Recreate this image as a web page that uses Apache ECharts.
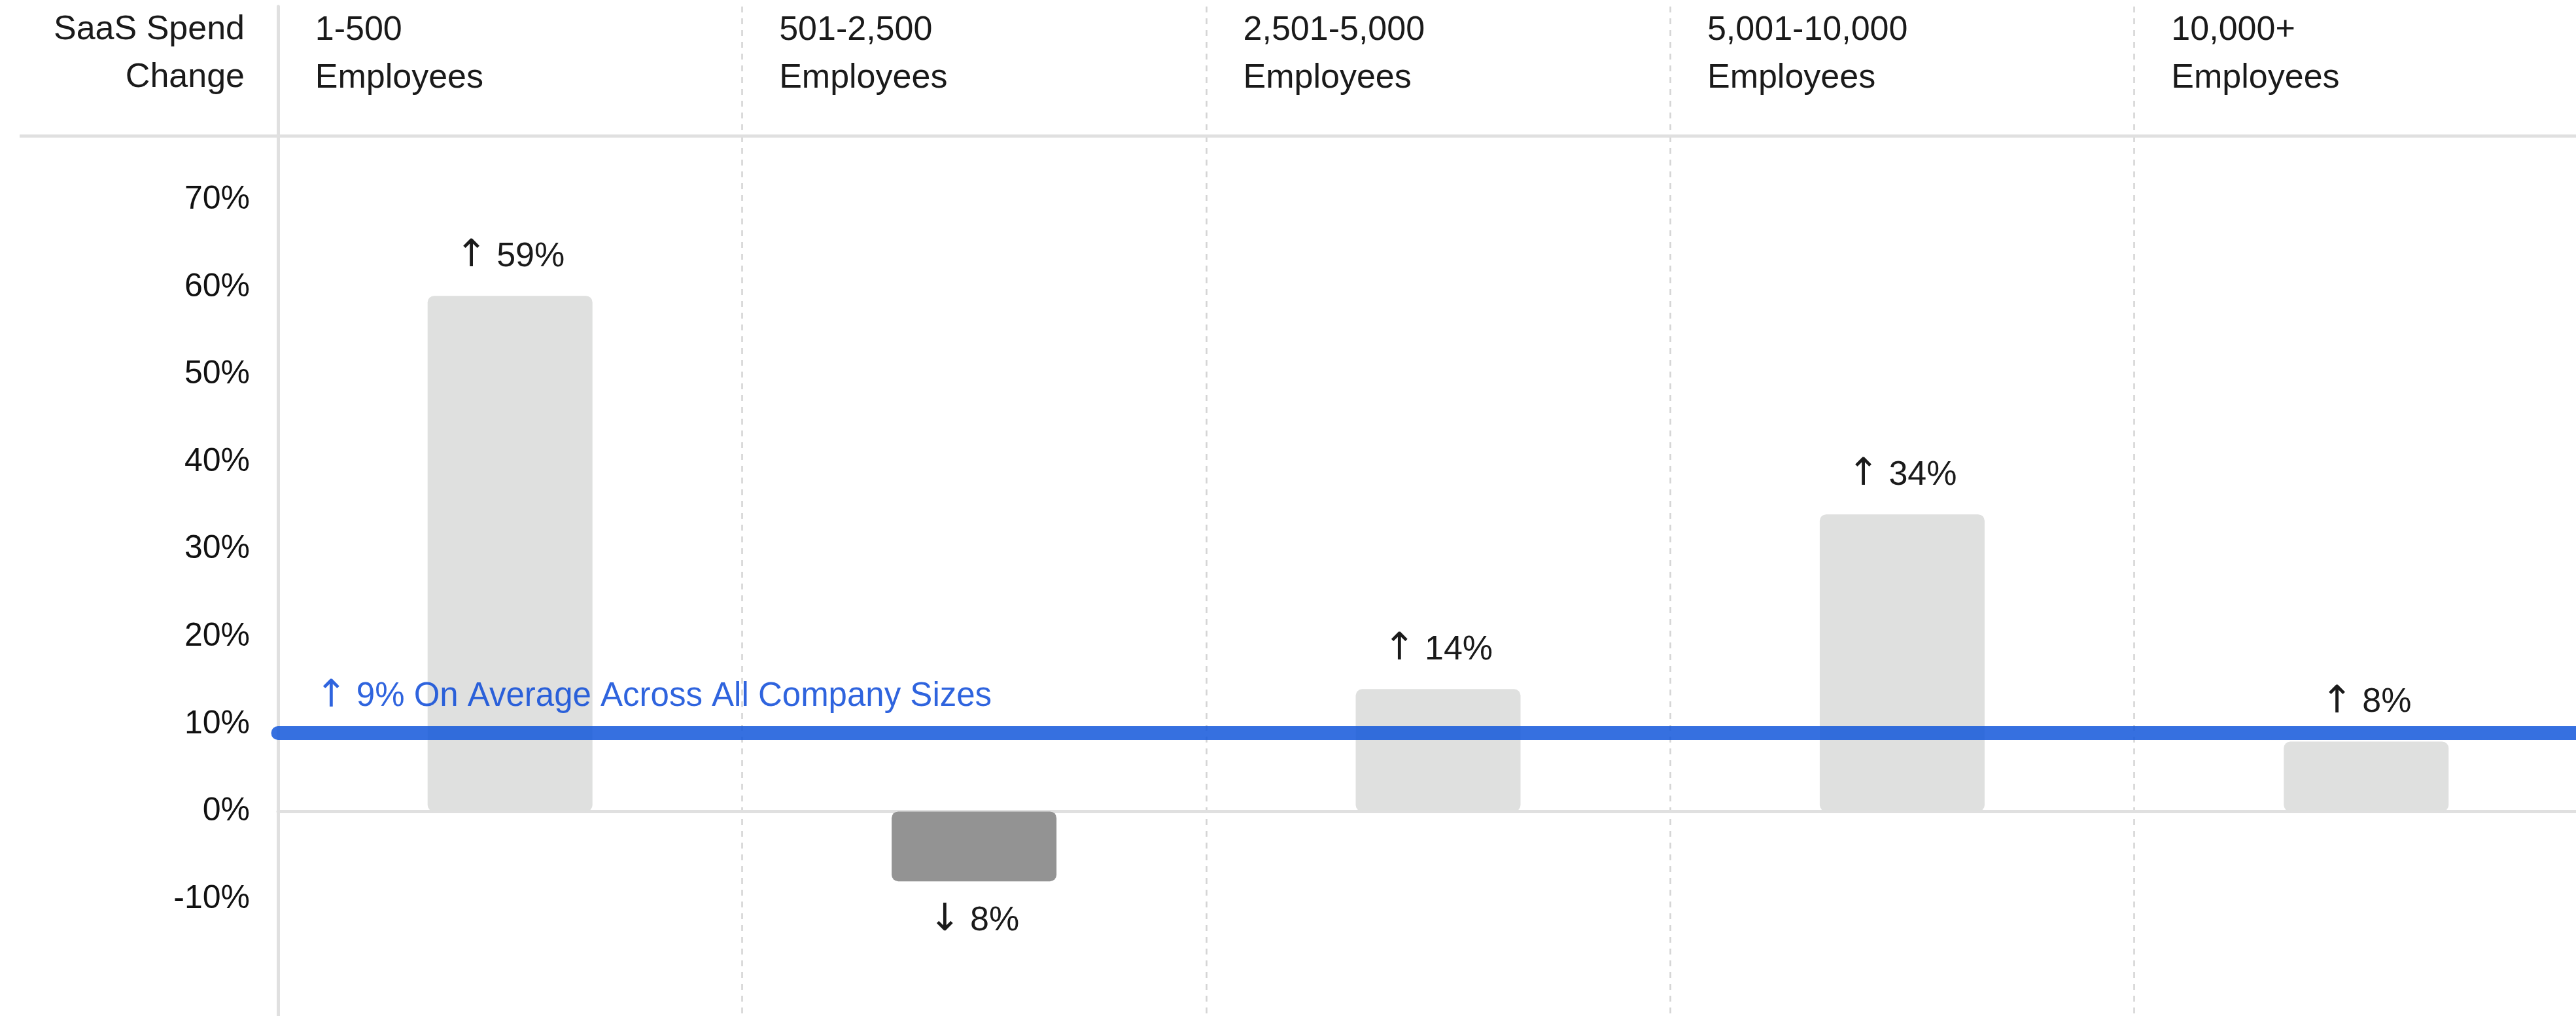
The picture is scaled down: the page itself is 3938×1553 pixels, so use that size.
<!DOCTYPE html>
<html>
<head>
<meta charset="utf-8">
<title>SaaS Spend Change by Company Size</title>
<script src="https://cdn.jsdelivr.net/npm/echarts@6/dist/echarts.min.js"></script>
<style>
  html, body { margin: 0; padding: 0; background: #ffffff; }
  #chart { width: 3938px; height: 1553px; }
</style>
</head>
<body>
<div id="chart"></div>
<script>
// Company-size buckets and the change in SaaS spend for each (percent)
const categories = [
  '1-500\nEmployees',
  '501-2,500\nEmployees',
  '2,501-5,000\nEmployees',
  '5,001-10,000\nEmployees',
  '10,000+\nEmployees'
];
const spendChange = [59, -8, 14, 34, 8];
const averageChange = 9;
const averageText = 'On Average Across All Company Sizes';
const yTickValues = [-10, 0, 10, 20, 30, 40, 50, 60, 70];
const yAxisTitle = 'SaaS Spend\nChange';

const FONT = '"Liberation Sans", Arial, Helvetica, sans-serif';
const ARROW_FONT = '"DejaVu Sans", sans-serif';
const INK = '#1a1a1a';
const RULE = '#e0e0e0';
const BLUE_TEXT = '#0b49d8';

const chart = echarts.init(document.getElementById('chart'), null, { renderer: 'canvas' });

// "↑ 59%" / "↓ 8%" with the arrow set in a font that draws a full-size arrow
const arrowed = v => '{arr|' + (v >= 0 ? '\u2191' : '\u2193') + '} ' + Math.abs(v) + '%';
const arrowRich = color => ({
  arr: { fontFamily: ARROW_FONT, fontSize: 58, color: color, lineHeight: 60 }
});

// header labels sit a little in from the left edge of each column
const headerInset = 0.08;

chart.setOption({
  backgroundColor: '#ffffff',
  animation: false,
  textStyle: { fontFamily: FONT },
  grid: {
    left: 425, top: 10, width: 3547, bottom: 0,
    containLabel: false,
    outerBoundsMode: 'none'
  },
  xAxis: [
    {
      type: 'category',
      data: categories,
      boundaryGap: true,
      position: 'bottom',
      axisLine: { show: true, onZero: true, lineStyle: { color: RULE, width: 5 } },
      axisTick: { show: false },
      axisLabel: { show: false },
      splitLine: {
        show: true,
        interval: 0,
        lineStyle: { color: '#d4d4d4', width: 2.5, type: [9, 9] }
      }
    },
    {
      // column headings, left-aligned inside each column
      type: 'value',
      min: 0,
      max: categories.length,
      position: 'top',
      axisLine: { show: false },
      axisTick: { show: false },
      splitLine: { show: false },
      axisLabel: {
        show: true,
        inside: true,
        customValues: categories.map((_, i) => i + headerInset),
        formatter: v => categories[Math.floor(v)],
        align: 'left',
        verticalAlign: 'top',
        margin: 0,
        color: INK,
        fontSize: 52,
        lineHeight: 73,
        fontFamily: FONT
      }
    }
  ],
  yAxis: {
    type: 'value',
    min: -23.4,
    max: 92.1,
    name: yAxisTitle,
    nameLocation: 'end',
    nameGap: 1,
    nameTextStyle: {
      color: INK,
      fontSize: 52,
      lineHeight: 73,
      align: 'right',
      verticalAlign: 'top',
      padding: [0, 51, 0, 0],
      fontFamily: FONT
    },
    axisLine: { show: true, lineStyle: { color: RULE, width: 5 } },
    axisTick: { show: false },
    splitLine: { show: false },
    axisLabel: {
      customValues: yTickValues,
      formatter: v => v + '%',
      color: '#111111',
      fontSize: 50,
      margin: 43,
      fontFamily: FONT
    }
  },
  graphic: [
    {
      // rule under the header row
      type: 'line',
      silent: true,
      shape: { x1: 30, y1: 208, x2: 3938, y2: 208 },
      style: { stroke: RULE, lineWidth: 5 },
      z: 1
    }
  ],
  series: [
    {
      type: 'bar',
      xAxisIndex: 0,
      barWidth: 252,
      data: spendChange.map(v => ({
        value: v,
        itemStyle: { color: v < 0 ? '#939393' : '#dfe0df', borderRadius: 10 },
        label: { position: v < 0 ? 'bottom' : 'top' }
      })),
      label: {
        show: true,
        distance: 30,
        formatter: p => arrowed(p.value),
        color: INK,
        fontSize: 52,
        lineHeight: 60,
        fontFamily: FONT,
        rich: arrowRich(INK)
      },
      markLine: {
        silent: true,
        symbol: ['none', 'none'],
        z: 5,
        lineStyle: {
          color: '#1357db',
          opacity: 0.85,
          width: 21,
          type: 'solid',
          cap: 'round'
        },
        label: {
          show: true,
          position: 'insideStartTop',
          distance: [57, 25],
          formatter: () => arrowed(averageChange) + ' ' + averageText,
          color: BLUE_TEXT,
          fontSize: 51,
          lineHeight: 60,
          fontFamily: FONT,
          rich: arrowRich(BLUE_TEXT)
        },
        emphasis: { disabled: true },
        data: [{ yAxis: averageChange }]
      }
    }
  ]
});
</script>
</body>
</html>
